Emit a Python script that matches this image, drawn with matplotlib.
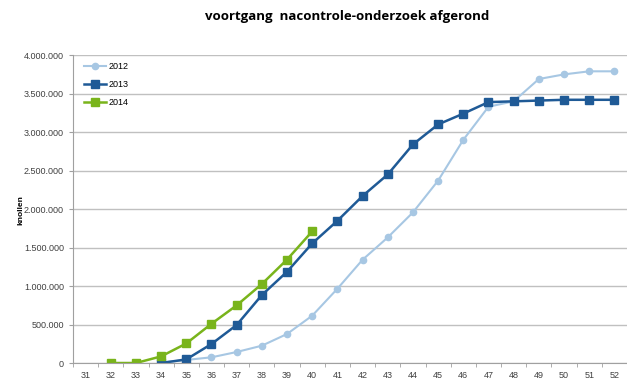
import matplotlib
matplotlib.use("Agg")
import matplotlib.pyplot as plt
from matplotlib.ticker import FuncFormatter, MultipleLocator

plt.rcParams['font.family'] = ['Liberation Sans', 'DejaVu Sans']

# data
weeks = list(range(31, 53))

weeks_2012 = list(range(34, 53))
vals_2012 = [5000, 40000, 74000, 143000, 225000, 377000, 615000, 965000, 1342000,
             1632000, 1957000, 2370000, 2900000, 3330000, 3400000, 3690000,
             3750000, 3790000, 3790000]

weeks_2013 = list(range(34, 53))
vals_2013 = [0, 47000, 247000, 494000, 883000, 1186000, 1554000, 1848000, 2170000,
             2450000, 2840000, 3100000, 3240000, 3390000, 3400000, 3410000,
             3420000, 3420000, 3420000]

weeks_2014 = list(range(32, 41))
vals_2014 = [0, 0, 86000, 254000, 510000, 749000, 1026000, 1344000, 1710000]

fig = plt.figure(figsize=(6.27, 3.83), dpi=100)
ax = fig.add_axes([0.1164, 0.0522, 0.8836, 0.8038])

ax.plot(weeks_2012, vals_2012, color="#a7c7e3", marker="o", markersize=4.5,
        linewidth=1.5, label="2012")
ax.plot(weeks_2013, vals_2013, color="#1f5a96", marker="s", markersize=5.5,
        linewidth=1.8, label="2013")
ax.plot(weeks_2014, vals_2014, color="#79b41b", marker="s", markersize=5.5,
        linewidth=1.8, label="2014")

ax.set_xlim(30.5, 52.5)
ax.set_ylim(0, 4000000)
ax.set_xticks(weeks)
ax.set_xticklabels([str(w) for w in weeks])
ax.xaxis.set_minor_locator(MultipleLocator(1, offset=0.5))
ax.tick_params(axis="x", which="major", length=0, labelsize=6.5, pad=6, colors="#404040")
ax.tick_params(axis="x", which="minor", length=3, color="#a0a0a0", direction="out")
ax.yaxis.set_major_locator(MultipleLocator(500000))
ax.yaxis.set_major_formatter(FuncFormatter(lambda v, p: f"{int(v):,}".replace(",", ".")))
ax.tick_params(axis="y", labelsize=6.5, length=3, colors="#a0a0a0", labelcolor="#404040")

ax.grid(axis="y", color="#c0c0c0", linewidth=1)
ax.set_axisbelow(True)
for s in ["top", "right"]:
    ax.spines[s].set_visible(False)
ax.spines["left"].set_color("#a0a0a0")
ax.spines["bottom"].set_color("#a0a0a0")

# y label sits well left of the tick labels
fig.text(0.033, 0.452, "knollen", rotation=90, ha="center", va="center",
         fontsize=6, fontweight="bold")

fig.text(0.553, 0.956, "voortgang  nacontrole-onderzoek afgerond", ha="center",
         va="center", fontsize=9.5, fontweight="bold", family="Open Sans")

ax.legend(loc="upper left", bbox_to_anchor=(0.005, 1.005), frameon=False,
          fontsize=6.5, handlelength=2.5, labelspacing=1.0, handletextpad=0.2)

fig.savefig("out.png", dpi=100)
